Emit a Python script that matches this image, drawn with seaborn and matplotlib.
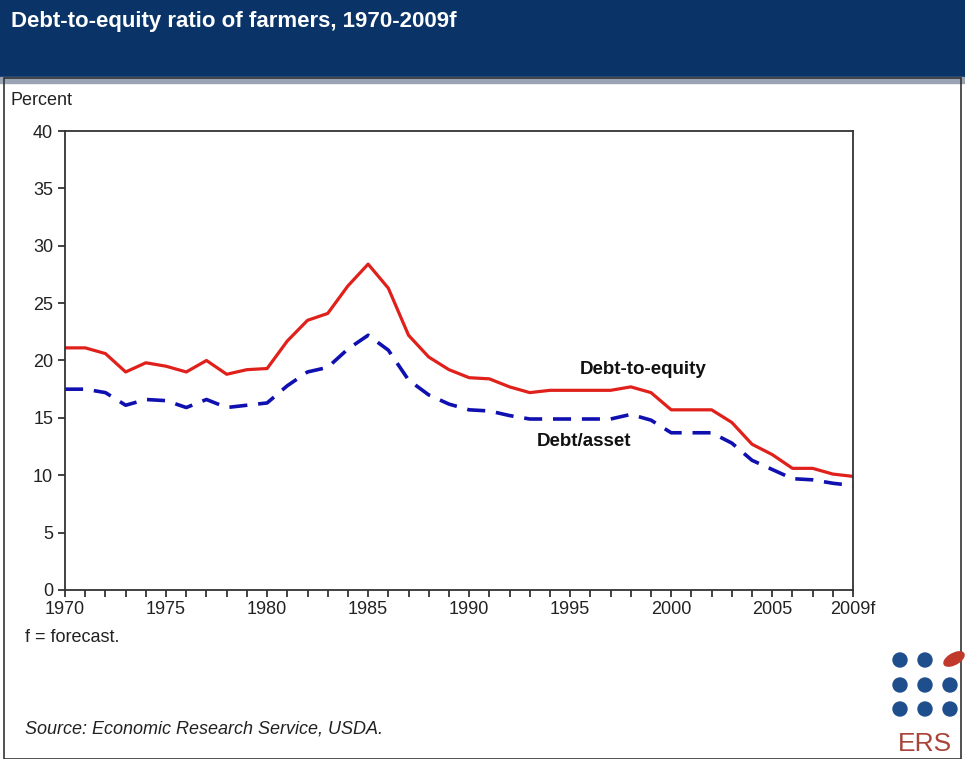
import numpy as np
import pandas as pd
import matplotlib.pyplot as plt
import seaborn as sns
from matplotlib.patches import Rectangle, Ellipse

# Datos
years = list(range(1970, 2010))
debt_to_equity = [21.1, 21.1, 20.6, 19.0, 19.8, 19.5, 19.0, 20.0, 18.8, 19.2,
                  19.3, 21.7, 23.5, 24.1, 26.5, 28.4, 26.3, 22.2, 20.3, 19.2,
                  18.5, 18.4, 17.7, 17.2, 17.4, 17.4, 17.4, 17.4, 17.7, 17.2,
                  15.7, 15.7, 15.7, 14.6, 12.7, 11.8, 10.6, 10.6, 10.1, 9.9]
debt_asset = [17.5, 17.5, 17.2, 16.1, 16.6, 16.5, 15.9, 16.6, 15.9, 16.1,
              16.3, 17.8, 19.0, 19.4, 21.0, 22.2, 20.9, 18.3, 17.0, 16.2,
              15.7, 15.6, 15.2, 14.9, 14.9, 14.9, 14.9, 14.9, 15.3, 14.8,
              13.7, 13.7, 13.7, 12.8, 11.3, 10.5, 9.7, 9.6, 9.3, 9.1]
x_ticks = [1970, 1975, 1980, 1985, 1990, 1995, 2000, 2005, 2009]
x_labels = ['1970', '1975', '1980', '1985', '1990', '1995', '2000', '2005', '2009f']
y_ticks = [0, 5, 10, 15, 20, 25, 30, 35, 40]

df = pd.DataFrame({'Año': years, 'Deuda/capital': debt_to_equity, 'Deuda/activo': debt_asset})

sns.set_style('white')
plt.rcParams['font.family'] = ['Liberation Sans', 'DejaVu Sans']

fig = plt.figure(figsize=(9.65, 7.59), dpi=100)
ax = fig.add_axes([0.0674, 0.2227, 0.8166, 0.6047])

sns.lineplot(data=df, x='Año', y='Deuda/capital', ax=ax, color='#e0201b', linewidth=2.3)
sns.lineplot(data=df, x='Año', y='Deuda/activo', ax=ax, color='#1010b0', linewidth=2.6,
             linestyle=(0, (5, 3)))

ax.set_xlim(1970, 2009)
ax.set_ylim(0, 40)
ax.set_xticks(x_ticks)
ax.set_xticklabels(x_labels, fontsize=13)
ax.set_xticks(years, minor=True)
ax.set_yticks(y_ticks)
ax.set_yticklabels([str(v) for v in y_ticks], fontsize=13)
ax.tick_params(axis='x', which='both', direction='out', length=5, width=1.2, pad=3,
               bottom=True, colors='#222222')
ax.tick_params(axis='y', which='both', direction='out', length=5, width=1.2, left=True,
               colors='#222222')
ax.set_xlabel('')
ax.set_ylabel('')
for s in ax.spines.values():
    s.set_color('#333333')
    s.set_linewidth(1.3)

ax.text(1998.6, 19.2, 'Debt-to-equity', fontsize=13.5, fontweight='bold', ha='center',
        va='center', color='#111111')
ax.text(1995.7, 12.9, 'Debt/asset', fontsize=13.5, fontweight='bold', ha='center',
        va='center', color='#111111')

# Cabecera
fig.patches.append(Rectangle((0, 0.897), 1, 0.103, transform=fig.transFigure,
                             color='#0a3468', zorder=0))
fig.patches.append(Rectangle((0, 0.891), 1, 0.007, transform=fig.transFigure,
                             color='#9aa4b4', zorder=0))
fig.text(0.011, 0.972, 'Debt-to-equity ratio of farmers, 1970-2009f', color='white',
         fontsize=16, fontweight='bold', va='center')
fig.text(0.011, 0.868, 'Percent', fontsize=13, va='center', color='#222222')

fig.text(0.026, 0.16, 'f = forecast.', fontsize=13, va='center', color='#222222')
fig.text(0.026, 0.04, 'Source: Economic Research Service, USDA.', fontsize=13,
         va='center', style='italic', color='#222222')

# Logo ERS
w, h = 965, 759
dot_px = [900, 925, 950]
dot_py = [660, 685, 709]
for j, py in enumerate(dot_py):
    for i, px in enumerate(dot_px):
        if j == 0 and i == 2:
            continue
        fig.add_artist(Ellipse((px / w, 1 - py / h), 14 / w, 14 / h,
                               transform=fig.transFigure, color='#1f4e8c'))
fig.add_artist(Ellipse((954 / w, 1 - 659 / h), 24 / w, 10 / h, angle=40,
                       transform=fig.transFigure, color='#c0392b'))
fig.text(925 / w, 1 - 751 / h, 'ERS', color='#a8443a', fontsize=19, ha='center',
         va='baseline')

# Borde
fig.patches.append(Rectangle((0.004, 0.0), 0.992, 0.897, transform=fig.transFigure,
                             fill=False, edgecolor='#333333', linewidth=1.2, zorder=0))

fig.savefig('out.png', dpi=100)
